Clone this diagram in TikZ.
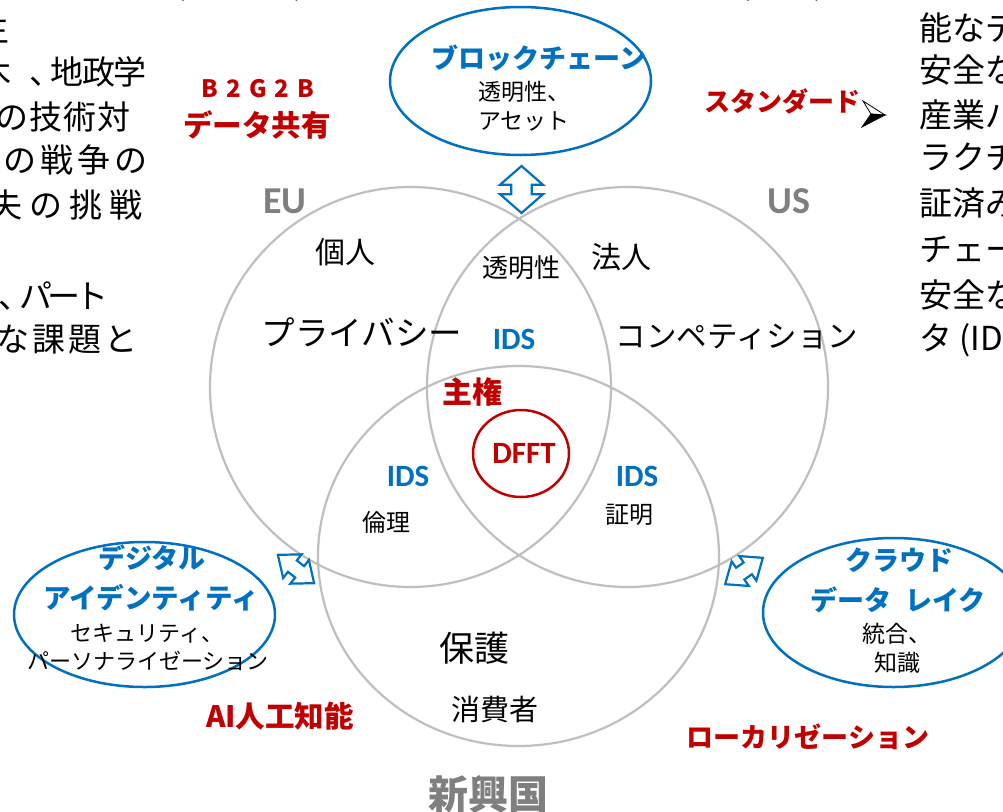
\documentclass[tikz,border=0pt]{standalone}
\usepackage{fontspec}
\setmainfont{Noto Sans CJK JP}
\newfontfamily\latinb{Carlito}
\usetikzlibrary{shapes.geometric}
\definecolor{blu}{HTML}{0070C0}
\definecolor{rd}{HTML}{C00000}
\definecolor{gry}{HTML}{7F7F7F}
\definecolor{cg}{HTML}{BFBFBF}
\newcommand\fs[1]{\fontsize{#1}{#1}\selectfont}
\newcommand\g[1]{\hspace{#1pt}}
\newcommand\dblarrow[6]{% name, x, y, angle, length, headwidth
  \begin{scope}[shift={(#2,#3)}, rotate=#4]
    \pgfmathsetmacro\hl{#5/2}\pgfmathsetmacro\hw{#6/2}
    \pgfmathsetmacro\hh{#5*0.4}\pgfmathsetmacro\sw{#6*0.24}
    \draw[arr] (-\hl,0) -- (-\hl+\hh,\hw) -- (-\hl+\hh,\sw) -- (\hl-\hh,\sw) -- (\hl-\hh,\hw) -- (\hl,0)
       -- (\hl-\hh,-\hw) -- (\hl-\hh,-\sw) -- (-\hl+\hh,-\sw) -- (-\hl+\hh,-\hw) -- cycle;
    \coordinate (#1) at (0,0);
  \end{scope}}
\tikzset{
  venn/.style={draw=cg, line width=2.2pt, ellipse, inner sep=0pt},
  bell/.style={draw=blu, line width=2.5pt, ellipse, inner sep=0pt},
  arr/.style={draw=blu, line width=2.2pt, fill=white, line join=miter},
  t/.style={inner sep=0pt, text=black},
  blab/.style={inner sep=0pt, text=blu, font=\bfseries},
  rlab/.style={inner sep=0pt, text=rd, font=\bfseries},
  glab/.style={inner sep=0pt, text=gry},
  side/.style={inner sep=0pt, text=black, font=\fs{33}},
}
\begin{document}
\begin{tikzpicture}[x=1pt,y=-1pt]
\useasboundingbox (0,0) rectangle (1003,811);
\clip (0,0) rectangle (1003,811);
\fill[white] (0,0) rectangle (1003,811);
% venn circles
\node[venn, minimum width=401, minimum height=400] (eu) at (410.5,387) {};
\node[venn, minimum width=401, minimum height=400] (us) at (627.5,387) {};
\node[venn, minimum width=401, minimum height=380] (em) at (518.5,556) {};
% top title fragments
\node[t, font=\fs{40}, anchor=base] (p1) at (180,-6) {(};
\node[t, font=\fs{40}, anchor=base] (p2) at (300,-6) {)};
\node[t, font=\fs{40}, anchor=base] (p3) at (745,-6) {(};
\node[t, font=\fs{40}, anchor=base] (p4) at (820,-6) {)};
% left text block (cut)
\node[side, anchor=east] (l1) at (10,28) {生};
\node[side, anchor=east] (l2a) at (12,72) {木};
\node[side, anchor=east] (l2) at (147,72) {、\g{-12}地\g{-1.5}政\g{-1.5}学};
\node[side, anchor=east] (l3) at (131,117) {の\g{1}技\g{1}術\g{1}対};
\node[side, anchor=east] (l4) at (148,160) {象\g{4}の\g{4}戦\g{4}争\g{4}の};
\node[side, anchor=east] (l5) at (143,205) {失\g{7}の\g{7}挑\g{7}戦};
\node[side, anchor=east] (l6) at (109,296) {し、\g{-12}パ\g{-5}ー\g{-5}ト};
\node[side, anchor=east] (l7) at (138,340) {な\g{3}課\g{3}題\g{3}と};
% right text block (cut)
\node[side, anchor=west] (r1) at (919,28) {能なデ};
\node[side, anchor=west] (r2) at (919,70) {安全な};
\node[side, anchor=west] (r3) at (919,115) {産業バ};
\node[side, anchor=west] (r4) at (919,158) {ラクチャ};
\node[side, anchor=west] (r5) at (919,203) {証済み};
\node[side, anchor=west] (r6) at (919,250) {チェーン};
\node[side, anchor=west] (r7) at (919,295) {安全な};
\node[side, anchor=west] (r8) at (919,340) {タ (IDS)};
% blockchain ellipse
\node[bell, minimum width=261, minimum height=148] (bc) at (520.5,81) {};
\node[blab, font=\bfseries\fs{27}] (bct) at (539,58) {ブロックチェーン};
\node[t, font=\fs{23}] (bc1) at (524,92) {透明性、};
\node[t, font=\fs{23}] (bc2) at (524,121) {アセット};
\dblarrow{a1}{521.5}{189.5}{90}{47}{43}
% digital identity ellipse
\node[bell, minimum width=261, minimum height=145] (di) at (144.5,614.5) {};
\node[blab, font=\bfseries\fs{27}] (di1) at (152,558) {デジタル};
\node[blab, font=\bfseries\fs{27.5}] (di2) at (151,598) {アイデンティティ};
\node[t, font=\fs{22}] (di3) at (147,634) {セキュリティ、};
\node[t, font=\fs{22}] (di4) at (148,661) {パーソナライゼーション};
\dblarrow{a2}{296}{569}{-38}{46}{30}
% cloud data lake ellipse
\node[bell, minimum width=261, minimum height=149] (cl) at (893.5,612.5) {};
\node[blab, font=\bfseries\fs{27}] (cl1) at (899,560) {クラウド};
\node[blab, font=\bfseries\fs{27}] (cl2) at (898,600) {データ\g{14}レイク};
\node[t, font=\fs{23}] (cl3) at (897,634) {統合、};
\node[t, font=\fs{23}] (cl4) at (897,663) {知識};
\dblarrow{a3}{744}{571}{35}{46}{30}
% red labels
\node[rlab, font=\bfseries\fs{24}] (b2g) at (258,89) {B\g{8}2\g{8}G\g{8}2\g{8}B};
\node[rlab, font=\bfseries\fs{29.5}] (dsh) at (257,125) {データ共有};
\node[rlab, font=\bfseries\fs{26}] (std) at (782,101) {スタンダード};
\node[rlab, font=\bfseries\fs{29.5}] (ai) at (280,716) {AI人工知能};
\node[rlab, font=\bfseries\fs{27}] (loc) at (808,737) {ローカリゼーション};
% cursor-like arrow
\coordinate (cu) at (874,114);
\filldraw[fill=white, draw=black, line width=0.8pt] (863,101) -- (885,115) -- (871,114) -- cycle;
\filldraw[fill=black, draw=black, line width=0.8pt] (871,114) -- (885,115) -- (862,127) -- cycle;
% region labels
\node[glab, font=\latinb\bfseries\fs{38}] (eul) at (285,201) {EU};
\node[glab, font=\latinb\bfseries\fs{38}] (usl) at (789,201) {US};
\node[glab, font=\bfseries\fs{40}] (eml) at (488,794) {新興国};
\node[t, font=\fs{30}] (kojin) at (345,252) {個人};
\node[t, font=\fs{30}] (hojin) at (621,257) {法人};
\node[t, font=\fs{26}] (tomei) at (521,268) {透明性};
\node[t, font=\fs{33.5}] (priv) at (362,332) {プライバシー};
\node[t, font=\fs{30.5}] (comp) at (737,337) {コンペティション};
\node[blab, font=\latinb\bfseries\fs{31}] (ids1) at (514,339) {IDS};
\node[rlab, font=\bfseries\fs{30}] (shuken) at (472,392) {主権};
\node[draw=rd, line width=2.5pt, ellipse, minimum width=96, minimum height=87, inner sep=0pt] (dfftc) at (521,453.5) {};
\node[rlab, font=\latinb\bfseries\fs{31}] (dfft) at (524,453) {DFFT};
\node[blab, font=\latinb\bfseries\fs{31}] (ids2) at (408,476) {IDS};
\node[t, font=\fs{24}] (rinri) at (386,522) {倫理};
\node[blab, font=\latinb\bfseries\fs{31}] (ids3) at (637,476) {IDS};
\node[t, font=\fs{24}] (shomei) at (629,515) {証明};
\node[t, font=\fs{35}] (hogo) at (474,648) {保護};
\node[t, font=\fs{29}] (shohi) at (495,709) {消費者};
\end{tikzpicture}
\end{document}
